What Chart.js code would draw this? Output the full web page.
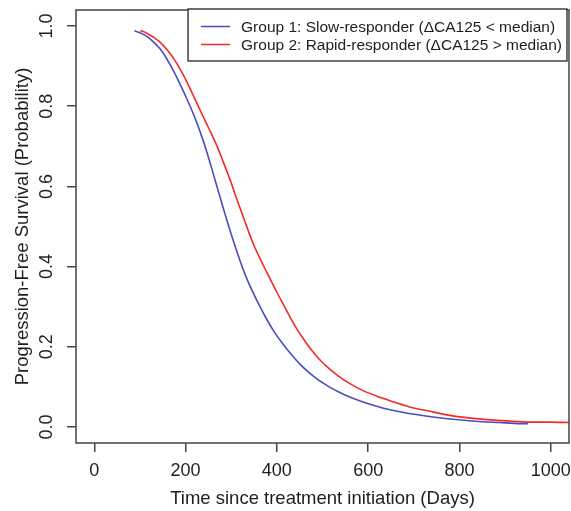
<!DOCTYPE html>
<html>
<head>
<meta charset="utf-8">
<script src="https://cdn.jsdelivr.net/npm/chart.js@4"></script>
<style>
  html, body { margin: 0; padding: 0; background: #fff; }
</style>
</head>
<body>
<canvas id="km" width="571" height="511"></canvas>
<script>
// ============================================================
// Curvas de sobrevida livre de progressão (Kaplan-Meier)
// ============================================================

const X_TICKS = [0, 200, 400, 600, 800, 1000];
const Y_TICKS = [0, 0.2, 0.4, 0.6, 0.8, 1.0];

const GROUP_LABELS = [
  "Group 1: Slow-responder (\u0394CA125 < median)",
  "Group 2: Rapid-responder (\u0394CA125 > median)",
];

// grupo 1 (azul)
const SLOW_DAYS = [88, 100, 115, 130, 145, 160, 175, 190, 203, 218, 232, 244, 256, 268, 280, 292, 305, 319, 333, 348, 363, 378, 395, 412, 430, 451, 470, 490, 512, 538, 565, 597, 630, 670, 705, 742, 780, 816, 850, 888, 920, 950];
const SLOW_PFS  = [0.988, 0.983, 0.974, 0.960, 0.942, 0.916, 0.885, 0.850, 0.818, 0.778, 0.736, 0.695, 0.650, 0.603, 0.556, 0.510, 0.463, 0.416, 0.373, 0.335, 0.300, 0.268, 0.236, 0.209, 0.183, 0.156, 0.136, 0.118, 0.102, 0.086, 0.072, 0.059, 0.048, 0.038, 0.031, 0.025, 0.020, 0.016, 0.013, 0.011, 0.009, 0.008];

// grupo 2 (vermelho)
const RAPID_DAYS = [101, 115, 130, 144, 160, 178, 195, 214, 232, 250, 268, 283, 298, 312, 327, 349, 370, 385, 400, 415, 429, 443, 458, 475, 492, 509, 535, 560, 590, 626, 660, 691, 735, 779, 825, 874, 920, 961, 1000, 1040];
const RAPID_PFS  = [0.989, 0.982, 0.972, 0.960, 0.940, 0.912, 0.878, 0.834, 0.790, 0.747, 0.703, 0.660, 0.615, 0.569, 0.522, 0.455, 0.404, 0.370, 0.336, 0.304, 0.274, 0.246, 0.220, 0.193, 0.170, 0.151, 0.127, 0.108, 0.090, 0.074, 0.061, 0.050, 0.039, 0.029, 0.022, 0.017, 0.014, 0.012, 0.012, 0.011];

const BLUE = "#4b4bc2";
const RED  = "#f22a2a";
const AXIS = "#444";
const TEXT = "#1e1e1e";
const FONT = "'Liberation Sans', Arial, sans-serif";

Chart.defaults.font.family = FONT;

const toPoints = (xs, ys) => xs.map((x, i) => ({ x, y: ys[i] }));

/* =========================
   MOLDURA + LEGENDA (estilo R)
========================= */
const frameAndLegend = {
  id: "frameAndLegend",
  afterDraw(chart) {
    const { ctx, chartArea: a } = chart;
    ctx.save();
    ctx.strokeStyle = AXIS;
    ctx.lineWidth = 1.5;
    ctx.strokeRect(a.left, a.top, a.right - a.left, a.bottom - a.top);

    ctx.font = "15.5px " + FONT;
    const sets = chart.data.datasets;
    const textW = Math.max(...sets.map((d) => ctx.measureText(d.label).width));
    const right = a.right - 2;
    const top = a.top - 1;
    const left = right - textW - 58;
    const bottom = top + 52;

    ctx.fillStyle = "#fff";
    ctx.fillRect(left, top, right - left, bottom - top);
    ctx.strokeStyle = "#222";
    ctx.lineWidth = 1.3;
    ctx.strokeRect(left, top, right - left, bottom - top);

    sets.forEach((d, i) => {
      const y = top + 17.5 + i * 18;
      ctx.strokeStyle = d.borderColor;
      ctx.lineWidth = 1.5;
      ctx.beginPath();
      ctx.moveTo(left + 13, y);
      ctx.lineTo(left + 42, y);
      ctx.stroke();
      ctx.fillStyle = TEXT;
      ctx.textBaseline = "middle";
      ctx.textAlign = "left";
      ctx.fillText(d.label, left + 53, y + 1);
    });
    ctx.restore();
  },
};

new Chart(document.getElementById("km").getContext("2d"), {
  type: "line",
  data: {
    datasets: [
      { label: GROUP_LABELS[0], data: toPoints(SLOW_DAYS, SLOW_PFS), borderColor: BLUE, borderWidth: 1.6, pointRadius: 0, cubicInterpolationMode: "monotone" },
      { label: GROUP_LABELS[1], data: toPoints(RAPID_DAYS, RAPID_PFS), borderColor: RED, borderWidth: 1.6, pointRadius: 0, cubicInterpolationMode: "monotone" },
    ],
  },
  options: {
    responsive: false,
    animation: false,
    layout: { padding: { top: 10, right: 2, left: 0, bottom: 0 } },
    plugins: { legend: { display: false }, tooltip: { enabled: false } },
    scales: {
      x: {
        type: "linear",
        min: -40,
        max: 1040,
        afterBuildTicks: (s) => { s.ticks = X_TICKS.map((v) => ({ value: v })); },
        afterFit: (s) => { s.height = 68; s.paddingLeft = 0; s.paddingRight = 0; },
        grid: { drawOnChartArea: false, drawTicks: true, tickLength: 9, color: AXIS, lineWidth: 1.5 },
        border: { display: false },
        ticks: { padding: 8, color: TEXT, font: { size: 18 }, maxRotation: 0, autoSkip: false, callback: (v) => String(v) },
        title: {
          display: true,
          text: "Time since treatment initiation (Days)",
          color: TEXT,
          font: { size: 18.5 },
          padding: { top: 0, bottom: 1 },
        },
      },
      y: {
        type: "linear",
        min: -0.04,
        max: 1.04,
        afterBuildTicks: (s) => { s.ticks = Y_TICKS.map((v) => ({ value: v })); },
        afterFit: (s) => { s.width = 76; s.paddingTop = 0; s.paddingBottom = 0; },
        grid: { drawOnChartArea: false, drawTicks: true, tickLength: 9, color: AXIS, lineWidth: 1.5 },
        border: { display: false },
        ticks: {
          padding: 7.5,
          color: TEXT,
          font: { size: 18 },
          minRotation: 90,
          maxRotation: 90,
          crossAlign: "center",
          autoSkip: false,
          callback: (v) => Number(v).toFixed(1),
        },
        title: {
          display: true,
          text: "Progression-Free Survival (Probability)",
          color: TEXT,
          font: { size: 18.5 },
          padding: { top: 12, bottom: 0 },
        },
      },
    },
  },
  plugins: [frameAndLegend],
});
</script>
</body>
</html>
